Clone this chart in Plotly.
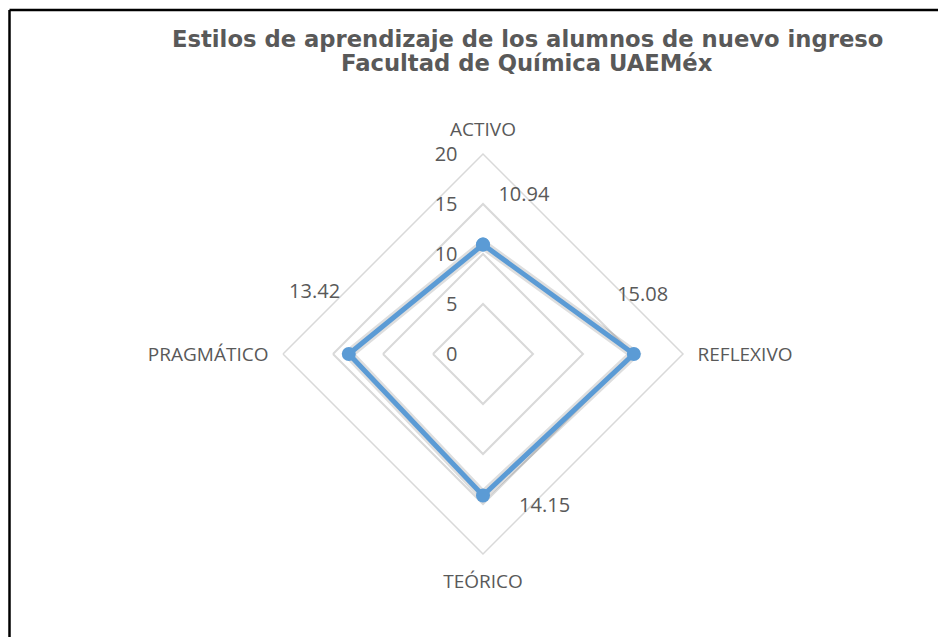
import plotly.graph_objects as go

# ---- data ----
categories = ["ACTIVO", "REFLEXIVO", "TEÓRICO", "PRAGMÁTICO"]
values = [10.94, 15.08, 14.15, 13.42]
value_labels = ["10.94", "15.08", "14.15", "13.42"]
radial_ticks = [0, 5, 10, 15, 20]
title_line1 = "Estilos de aprendizaje de los alumnos de nuevo ingreso"
title_line2 = "Facultad de Química UAEMéx"

# ---- style ----
W, H = 938, 637
CX, CY, R = 483, 354, 200
BLUE = "#5B9BD5"
GRAY_TXT = "#595959"
GRID = "#d9d9d9"
# label offsets (radial units, degrees) relative to each point
label_dr = [5.4, 1.9, 2.3, 4.5]
label_dtheta = [14.5, -19.9, -22.0, 20.0]

dom_x = [(CX - R) / W, (CX + R) / W]
dom_y = [1 - (CY + R) / H, 1 - (CY - R) / H]

fig = go.Figure()

closed_cat = categories + categories[:1]
closed_val = values + values[:1]

# soft shadow
fig.add_trace(go.Scatterpolar(
    r=closed_val, theta=closed_cat, mode="lines",
    line=dict(color="rgba(0,0,0,0.13)", width=10),
    hoverinfo="skip", showlegend=False, subplot="polar"))

fig.add_trace(go.Scatterpolar(
    r=closed_val, theta=closed_cat, mode="lines+markers",
    line=dict(color=BLUE, width=5),
    marker=dict(size=14, color=BLUE),
    showlegend=False, subplot="polar"))

# data labels on an overlaid numeric polar sharing the same scale
label_theta = [i * 90 + d for i, d in enumerate(label_dtheta)]
label_r = [v + d for v, d in zip(values, label_dr)]
fig.add_trace(go.Scatterpolar(
    r=label_r, theta=label_theta, mode="text", text=value_labels,
    textfont=dict(family="Open Sans", size=20, color=GRAY_TXT),
    showlegend=False, hoverinfo="skip", subplot="polar2"))

fig.update_layout(
    width=W, height=H,
    margin=dict(l=0, r=0, t=0, b=0),
    paper_bgcolor="white",
    showlegend=False,
    polar=dict(
        domain=dict(x=dom_x, y=dom_y),
        bgcolor="white",
        gridshape="linear",
        radialaxis=dict(
            range=[0, 20], tickvals=radial_ticks, showline=False,
            gridcolor=GRID, gridwidth=1.5, angle=90, tickangle=90,
            side="counterclockwise",
            ticks="outside", ticklen=18, tickcolor="rgba(0,0,0,0)",
            tickfont=dict(family="Open Sans", size=20, color=GRAY_TXT),
        ),
        angularaxis=dict(
            rotation=90, direction="clockwise", showgrid=False,
            linecolor=GRID, linewidth=1.5,
            ticks="outside", ticklen=10, tickcolor="rgba(0,0,0,0)",
            tickfont=dict(family="Open Sans", size=19, color=GRAY_TXT),
        ),
    ),
    polar2=dict(
        domain=dict(x=dom_x, y=dom_y),
        bgcolor="rgba(0,0,0,0)",
        radialaxis=dict(range=[0, 20], visible=False),
        angularaxis=dict(rotation=90, direction="clockwise", visible=False,
                         thetaunit="degrees"),
    ),
    annotations=[
        dict(text=title_line1, x=527 / W, y=1 - 39 / H, xref="paper", yref="paper",
             xanchor="center", yanchor="middle", showarrow=False,
             font=dict(family="DejaVu Sans", size=22.7, color=GRAY_TXT, weight="bold")),
        dict(text=title_line2, x=527 / W, y=1 - 63 / H, xref="paper", yref="paper",
             xanchor="center", yanchor="middle", showarrow=False,
             font=dict(family="DejaVu Sans", size=22.7, color=GRAY_TXT, weight="bold")),
    ],
    shapes=[
        dict(type="line", xref="paper", yref="paper", x0=9.5 / W, x1=1,
             y0=1 - 10 / H, y1=1 - 10 / H, line=dict(color="black", width=2.5)),
        dict(type="line", xref="paper", yref="paper", x0=9.5 / W, x1=9.5 / W,
             y0=0, y1=1 - 10 / H, line=dict(color="black", width=2.5)),
    ],
)

fig.write_html("out.html")
